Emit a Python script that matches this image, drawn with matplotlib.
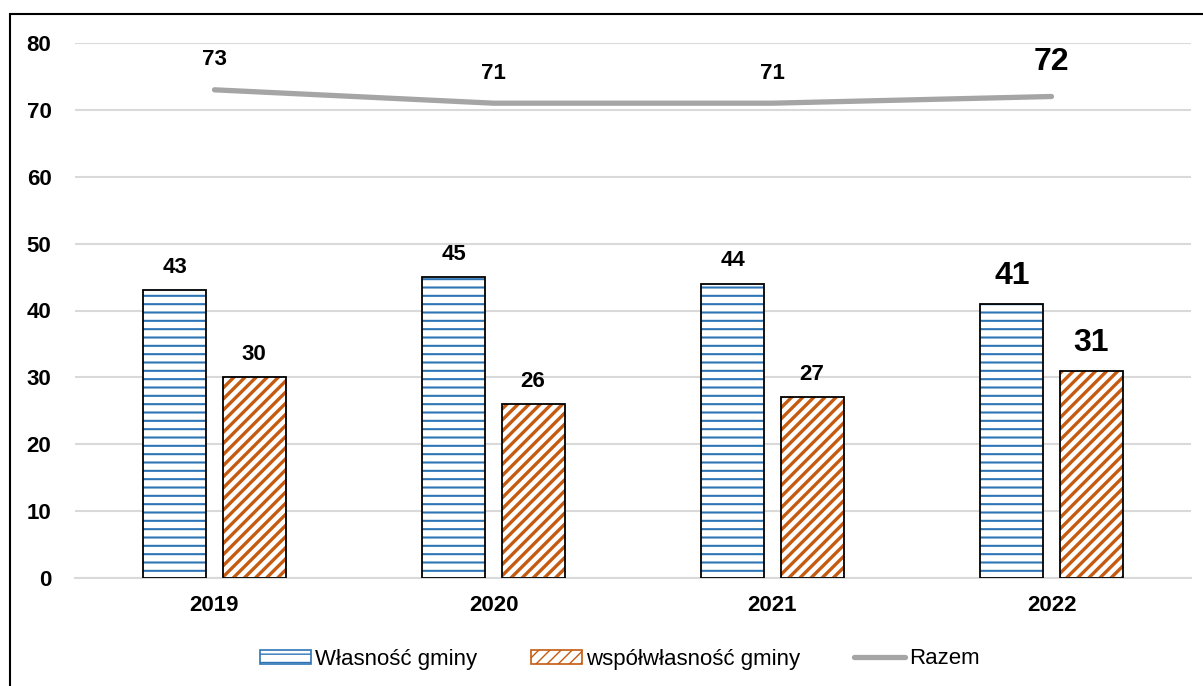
import numpy as np
from matplotlib import pyplot as plt
from matplotlib.patches import Rectangle
from matplotlib.lines import Line2D

plt.rcParams['font.family'] = ['Liberation Sans', 'DejaVu Sans']

years = ["2019", "2020", "2021", "2022"]
wlasnosc = [43, 45, 44, 41]
wspolwlasnosc = [30, 26, 27, 31]
razem = [73, 71, 71, 72]
y_ticks = [0, 10, 20, 30, 40, 50, 60, 70, 80]

blue = "#2E75B6"
orange = "#C55A11"
grey = "#A5A5A5"

fig = plt.figure(figsize=(12.03, 6.86), dpi=100)
ax = fig.add_axes([75 / 1203, 1 - 578 / 686, 1116 / 1203, 535 / 686])

x = np.arange(len(years))
width = 0.226
offset = 0.142

# hatched fill first, then black outline on top
with plt.rc_context({'hatch.linewidth': 1.5}):
    ax.bar(x - offset, wlasnosc, width, color="white", edgecolor=blue, hatch="--", linewidth=0, zorder=2)
    blue_handle = Rectangle((0, 0), 1, 1, facecolor="white", edgecolor=blue, hatch="--", linewidth=1.2)
with plt.rc_context({'hatch.linewidth': 2.4}):
    ax.bar(x + offset, wspolwlasnosc, width, color="white", edgecolor=orange, hatch="///", linewidth=0, zorder=2)
    orange_handle = Rectangle((0, 0), 1, 1, facecolor="white", edgecolor=orange, hatch="///", linewidth=1.2)
ax.bar(x - offset, wlasnosc, width, fill=False, edgecolor="black", linewidth=1.3, zorder=3)
ax.bar(x + offset, wspolwlasnosc, width, fill=False, edgecolor="black", linewidth=1.3, zorder=3)

ax.plot(x, razem, color=grey, linewidth=3.8, solid_capstyle="round", zorder=4)

for i in range(len(years)):
    big = i == len(years) - 1
    fs = 23 if big else 16
    ax.annotate(str(wlasnosc[i]), (x[i] - offset, wlasnosc[i]), xytext=(0, 9), textcoords="offset points",
                ha="center", va="bottom", fontsize=fs, fontweight="bold")
    ax.annotate(str(wspolwlasnosc[i]), (x[i] + offset, wspolwlasnosc[i]), xytext=(0, 9), textcoords="offset points",
                ha="center", va="bottom", fontsize=fs, fontweight="bold")
    ax.annotate(str(razem[i]), (x[i], razem[i]), xytext=(0, 14), textcoords="offset points",
                ha="center", va="bottom", fontsize=fs, fontweight="bold")

ax.set_xlim(-0.5, len(years) - 0.5)
ax.set_ylim(0, 80)
ax.set_yticks(y_ticks)
ax.set_xticks(x)
ax.set_xticklabels(years)
ax.tick_params(axis="both", length=0, labelsize=16)
ax.tick_params(axis="y", pad=17)
ax.tick_params(axis="x", pad=12)
for lbl in ax.get_xticklabels() + ax.get_yticklabels():
    lbl.set_fontweight("bold")
ax.grid(axis="y", color="#D9D9D9", linewidth=1.5, zorder=0)
ax.set_axisbelow(True)
for s in ["top", "right", "left"]:
    ax.spines[s].set_visible(False)
ax.spines["bottom"].set_color("#D9D9D9")
ax.spines["bottom"].set_linewidth(1.5)

handles = [
    blue_handle,
    orange_handle,
    Line2D([0], [0], color=grey, linewidth=3.8, solid_capstyle="round"),
]
fig.legend(handles, ["Własność gminy", "współwłasność gminy", "Razem"], loc="center",
           bbox_to_anchor=(620 / 1203, 1 - 659 / 686), ncol=3, frameon=False, fontsize=16,
           handlelength=2.3, handleheight=0.6, handletextpad=0.2, columnspacing=2.4)

# chart border
fig.add_artist(Rectangle((10 / 1203, -0.01), 1.2, 1 - 14 / 686 + 0.01, transform=fig.transFigure,
                         fill=False, edgecolor="black", linewidth=1.5))

fig.savefig("out.png", dpi=100)
